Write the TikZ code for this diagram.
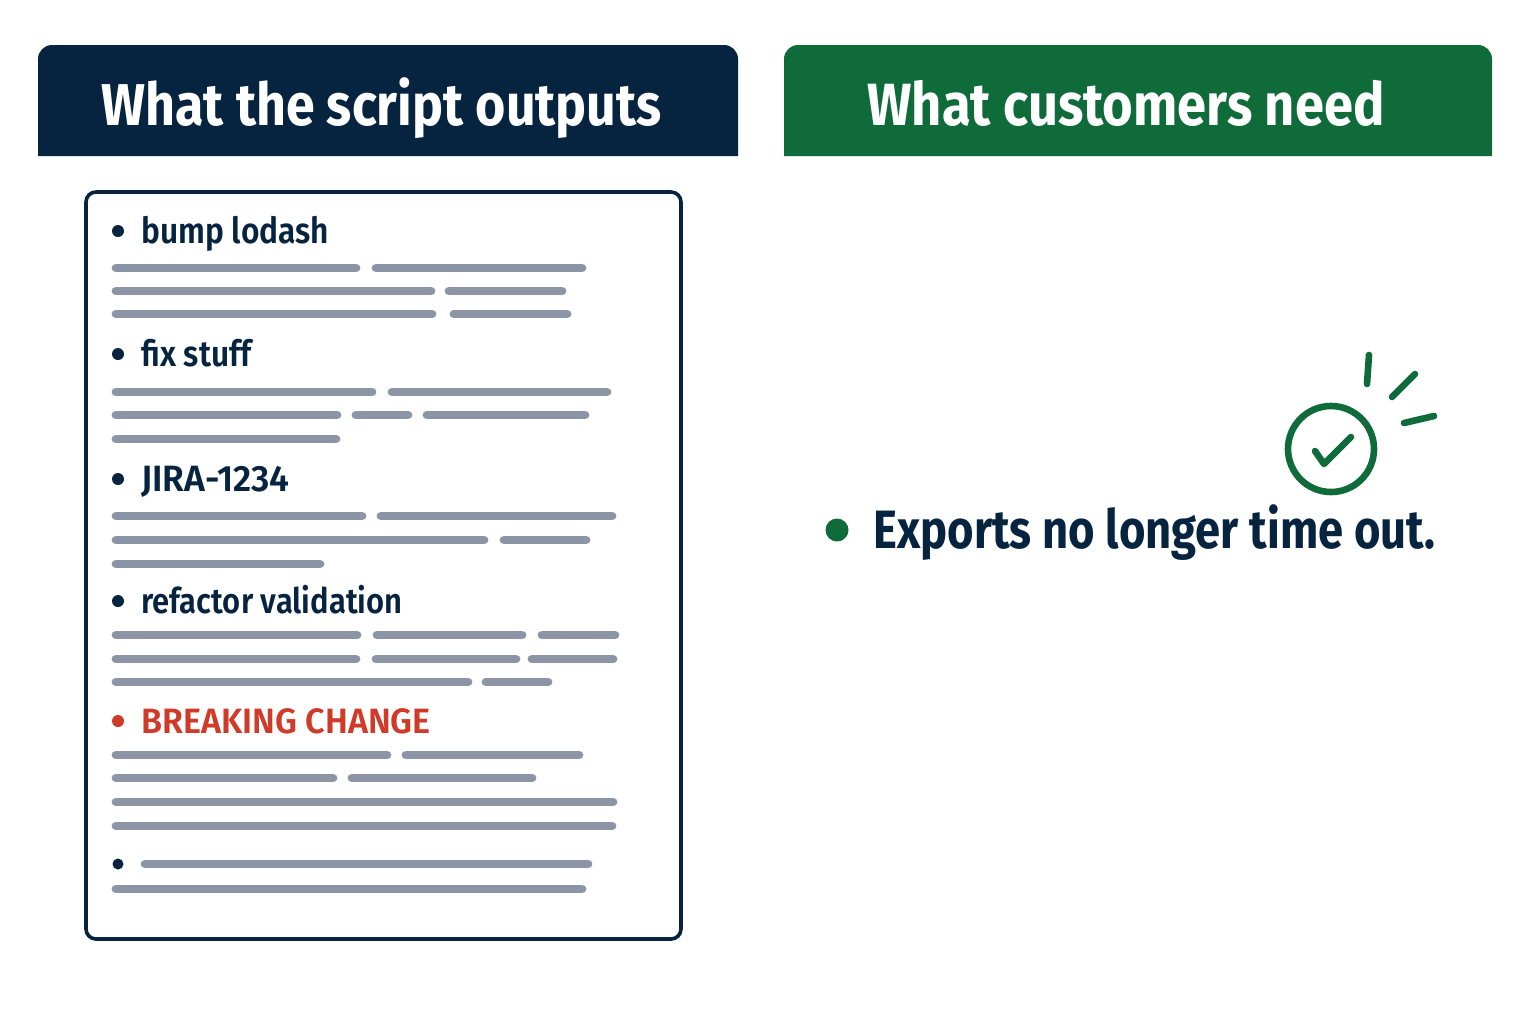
\documentclass[tikz,border=0pt]{standalone}
\usepackage{fontspec}
\setmainfont{Fira Sans}
\newfontfamily\headFont[FakeStretch=0.88]{Fira Sans Bold}
\newfontfamily\bigFont[FakeStretch=0.84]{Fira Sans Bold}
\newfontfamily\itemFont[FakeStretch=0.88]{Fira Sans SemiBold}
\newfontfamily\capsFont[FakeStretch=0.97]{Fira Sans SemiBold}
\definecolor{navy}{HTML}{06243F}
\definecolor{forest}{HTML}{0F6B3A}
\definecolor{alert}{HTML}{D03A28}
\definecolor{bar}{HTML}{8B95A5}

\begin{document}
\begin{tikzpicture}[
    x=0.5pt,
    y=-0.5pt,
    head/.style={%
      anchor=base,
      inner sep=0pt,
      text=white,
      font=\headFont\fontsize{29.5}{30}\selectfont,
    },
    item/.style={%
      anchor=base west,
      inner sep=0pt,
      text=navy,
      font=\itemFont\fontsize{18}{18}\selectfont,
    },
    capsitem/.style={%
      item,
      font=\capsFont\fontsize{17.6}{18}\selectfont,
    },
    dot/.style={%
      circle,
      inner sep=0pt,
      minimum size=6pt,
      fill=navy,
    },
    barline/.style={%
      draw=bar,
      line width=4.4pt,
      line cap=round,
    },
    tick/.style={%
      draw=forest,
      line width=3.3pt,
      line cap=round,
      line join=round,
    },
  ]

    \useasboundingbox (0,0) rectangle (1536,1024);
    \fill [white] (0,0) rectangle (1536,1024);

    % headers
    \fill [navy] (38,156) [rounded corners=7pt] -- (38,45) -- (738,45) [sharp corners] -- (738,156) -- cycle;
    \fill [forest] (784,156) [rounded corners=7pt] -- (784,45) -- (1492,45) [sharp corners] -- (1492,156) -- cycle;
    \node [head] (H1) at (381.5,125) {What the script outputs};
    \node [head, font=\headFont\fontsize{29.8}{30}\selectfont] (H2) at (1126,125) {What customers need};

    % document
    \draw [navy, line width=1.8pt, rounded corners=5pt] (86,192) rectangle (681,939);

    \node [item] (A) at (141,243) {bump lodash};
    \node [item] (B) at (141,366) {fix stuff};
    \node [capsitem, font=\capsFont\fontsize{18.3}{18}\selectfont] (C) at (141,491) {JIRA-1234};
    \node [item, font=\itemFont\fontsize{17.6}{18}\selectfont] (D) at (141,613) {refactor validation};
    \node [capsitem, text=alert] (E) at (141,733) {BREAKING CHANGE};

    \node [dot] (a) at (118,231) {};
    \node [dot] (b) at (118,354) {};
    \node [dot] (c) at (118,479) {};
    \node [dot] (d) at (118,601) {};
    \node [dot, fill=alert] (e) at (118,721) {};
    \node [dot, minimum size=5.5pt] (f) at (118,864) {};

    \foreach \y/\from/\to in {%
      268/116/356, 268/376/582,
      291/116/431, 291/449/562,
      314/116/432, 314/454/567,
      392/116/372, 392/392/607,
      415/116/337, 415/356/408, 415/427/585,
      439/116/336,
      516/116/362, 516/381/612,
      540/116/484, 540/504/586,
      564/116/320,
      635/116/357, 635/377/522, 635/542/615,
      659/116/356, 659/376/516, 659/532/613,
      682/116/468, 682/486/548,
      755/116/387, 755/406/579,
      778/116/333, 778/352/532,
      802/116/613,
      826/116/612,
      864/145/588,
      889/116/582}
      \draw [barline] (\from,\y) -- (\to,\y);

    % customer side
    \node [dot, fill=forest, minimum size=11.5pt] (g) at (837,530) {};
    \node [anchor=base west, inner sep=0pt, text=navy,
      font=\bigFont\fontsize{27}{28}\selectfont] (X) at (873,548) {Exports no longer time out.};

    \node [circle, draw=forest, line width=3.3pt, minimum size=43pt, inner sep=0pt] (O) at (1331,449) {};
    \draw [tick] (1315,451) -- (1324,464) -- (1351,437);
    \draw [tick] (1369,355) -- (1367,384);
    \draw [tick] (1415,374) -- (1392,397);
    \draw [tick] (1434,416) -- (1404,423);
\end{tikzpicture}
\end{document}
